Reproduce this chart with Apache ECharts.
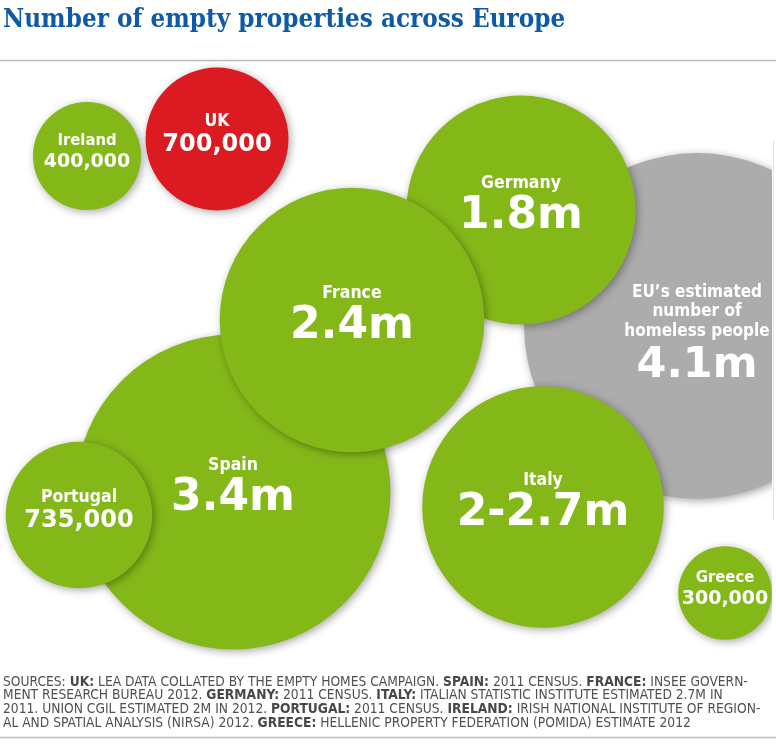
<!DOCTYPE html>
<html>
<head>
<meta charset="utf-8">
<script src="https://cdn.jsdelivr.net/npm/echarts@6/dist/echarts.min.js"></script>
<style>
  html, body { margin: 0; padding: 0; background: #ffffff; }
  #chart { width: 776px; height: 745px; }
</style>
</head>
<body>
<div id="chart"></div>
<script>
// ---- data ----
const titleText = 'Number of empty properties across Europe';
const keys = ['EU', 'Spain', 'Germany', 'Italy', 'France', 'Portugal', 'Ireland', 'UK', 'Greece'];
const nameLabels = ['EU\u2019s estimated\nnumber of\nhomeless people', 'Spain', 'Germany', 'Italy', 'France', 'Portugal', 'Ireland', 'UK', 'Greece'];
const valueLabels = ['4.1m', '3.4m', '1.8m', '2-2.7m', '2.4m', '735,000', '400,000', '700,000', '300,000'];
// value in millions (Italy bubble sized on the lower estimate)
const valuesM = [4.1, 3.4, 1.8, 2.0, 2.4, 0.735, 0.4, 0.7, 0.3];
// bubble layout positions (layout units on hidden axes)
const posX = [697, 233, 521, 543, 352, 79, 87, 217, 725];
const posY = [326, 492, 210, 507, 320, 515, 156, 139, 593];
const sourceLines = [
  'SOURCES: {b|UK:} LEA DATA COLLATED BY THE EMPTY HOMES CAMPAIGN. {b|SPAIN:} 2011 CENSUS. {b|FRANCE:} INSEE GOVERN-',
  'MENT RESEARCH BUREAU 2012. {b|GERMANY:} 2011 CENSUS. {b|ITALY:} ITALIAN STATISTIC INSTITUTE ESTIMATED 2.7M IN',
  '2011. UNION CGIL ESTIMATED 2M IN 2012. {b|PORTUGAL:} 2011 CENSUS. {b|IRELAND:} IRISH NATIONAL INSTITUTE OF REGION-',
  'AL AND SPATIAL ANALYSIS (NIRSA) 2012. {b|GREECE:} HELLENIC PROPERTY FEDERATION (POMIDA) ESTIMATE 2012'
];

// ---- styles ----
const GREEN = '#84b819', RED = '#dc1a21', GREY = '#acacac';
const colorFor = k => k === 'EU' ? GREY : (k === 'UK' ? RED : GREEN);
const tierFor = v => v >= 1.5 ? 'B' : (v >= 0.6 ? 'M' : 'S');
const labelOffsets = { EU: [0, 11] };
const PX_PER_SQRT_M = 85.4;
const nameFont = 'DejaVu Sans Condensed';
const valFont = 'DejaVu Sans';
const srcFont = '"Liberation Sans Narrow", "DejaVu Sans Condensed", sans-serif';

const seriesData = keys.map((k, i) => {
  const t = tierFor(valuesM[i]);
  const nStyle = k === 'EU' ? 'nE' : 'n' + t;
  return {
    name: k,
    value: [posX[i], posY[i], valuesM[i]],
    itemStyle: { color: colorFor(k) },
    label: {
      formatter: nameLabels[i].split('\n').map(s => '{' + nStyle + '|' + s + '}').join('\n') +
        '\n{v' + t + (k === 'EU' ? 'E' : '') + '|' + valueLabels[i] + '}',
      offset: labelOffsets[k] || [0, -4]
    }
  };
});

const chart = echarts.init(document.getElementById('chart'), null, { renderer: 'canvas' });

const graphics = [
  { type: 'line', shape: { x1: 0, y1: 60.5, x2: 776, y2: 60.5 }, style: { stroke: '#bdbdbd', lineWidth: 1.5 }, silent: true },
  { type: 'line', shape: { x1: 0, y1: 737.5, x2: 776, y2: 737.5 }, style: { stroke: '#bdbdbd', lineWidth: 1.5 }, silent: true },
  { type: 'rect', shape: { x: 772, y: 62, width: 4, height: 600 }, style: { fill: '#ffffff' }, z: 100, silent: true },
  { type: 'line', shape: { x1: 773.5, y1: 140, x2: 773.5, y2: 520 }, style: { stroke: '#e4e4e4', lineWidth: 1 }, z: 101, silent: true }
];
sourceLines.forEach((line, i) => {
  graphics.push({
    type: 'text', left: 3, top: 675 + i * 13.7, silent: true, z: 100,
    style: {
      text: line,
      fill: '#505050',
      font: '13.7px ' + srcFont,
      rich: {
        b: { fontWeight: 'bold', fontFamily: srcFont, fontSize: 13.7, fill: '#484848' }
      }
    }
  });
});

const rich = {
  nB: { fontFamily: nameFont, fontWeight: 'bold', fontSize: 17.5, lineHeight: 22, color: '#fff' },
  vB: { fontFamily: valFont, fontWeight: 'bold', fontSize: 44, lineHeight: 46, color: '#fff' },
  nE: { fontFamily: nameFont, fontWeight: 'bold', fontSize: 17, lineHeight: 19.5, color: '#fff' },
  vBE: { fontFamily: valFont, fontWeight: 'bold', fontSize: 43, lineHeight: 50, color: '#fff' },
  nM: { fontFamily: nameFont, fontWeight: 'bold', fontSize: 17.5, lineHeight: 20, color: '#fff' },
  vM: { fontFamily: valFont, fontWeight: 'bold', fontSize: 24, lineHeight: 28, color: '#fff' },
  nS: { fontFamily: nameFont, fontWeight: 'bold', fontSize: 16.5, lineHeight: 20, color: '#fff' },
  vS: { fontFamily: valFont, fontWeight: 'bold', fontSize: 19, lineHeight: 22, color: '#fff' }
};

chart.setOption({
  animation: false,
  backgroundColor: '#ffffff',
  title: {
    text: titleText, left: -2, top: 2,
    textStyle: { fontFamily: '"DejaVu Serif Condensed", "DejaVu Serif", serif', fontWeight: 'bold', fontSize: 25.8, color: '#0f5aa6' }
  },
  grid: { left: 0, right: 0, top: 0, bottom: 0 },
  xAxis: { type: 'value', min: 0, max: 776, show: false },
  yAxis: { type: 'value', min: 0, max: 745, inverse: true, show: false },
  graphic: graphics,
  series: [{
    type: 'scatter',
    silent: true,
    symbol: 'circle',
    symbolSize: v => 2 * PX_PER_SQRT_M * Math.sqrt(v[2]),
    itemStyle: { opacity: 1, shadowBlur: 9, shadowColor: 'rgba(0,0,0,0.35)', shadowOffsetX: 2, shadowOffsetY: 2 },
    label: { show: true, position: 'inside', align: 'center', verticalAlign: 'middle', rich: rich },
    emphasis: { disabled: true },
    data: seriesData
  }]
});
</script>
</body>
</html>
